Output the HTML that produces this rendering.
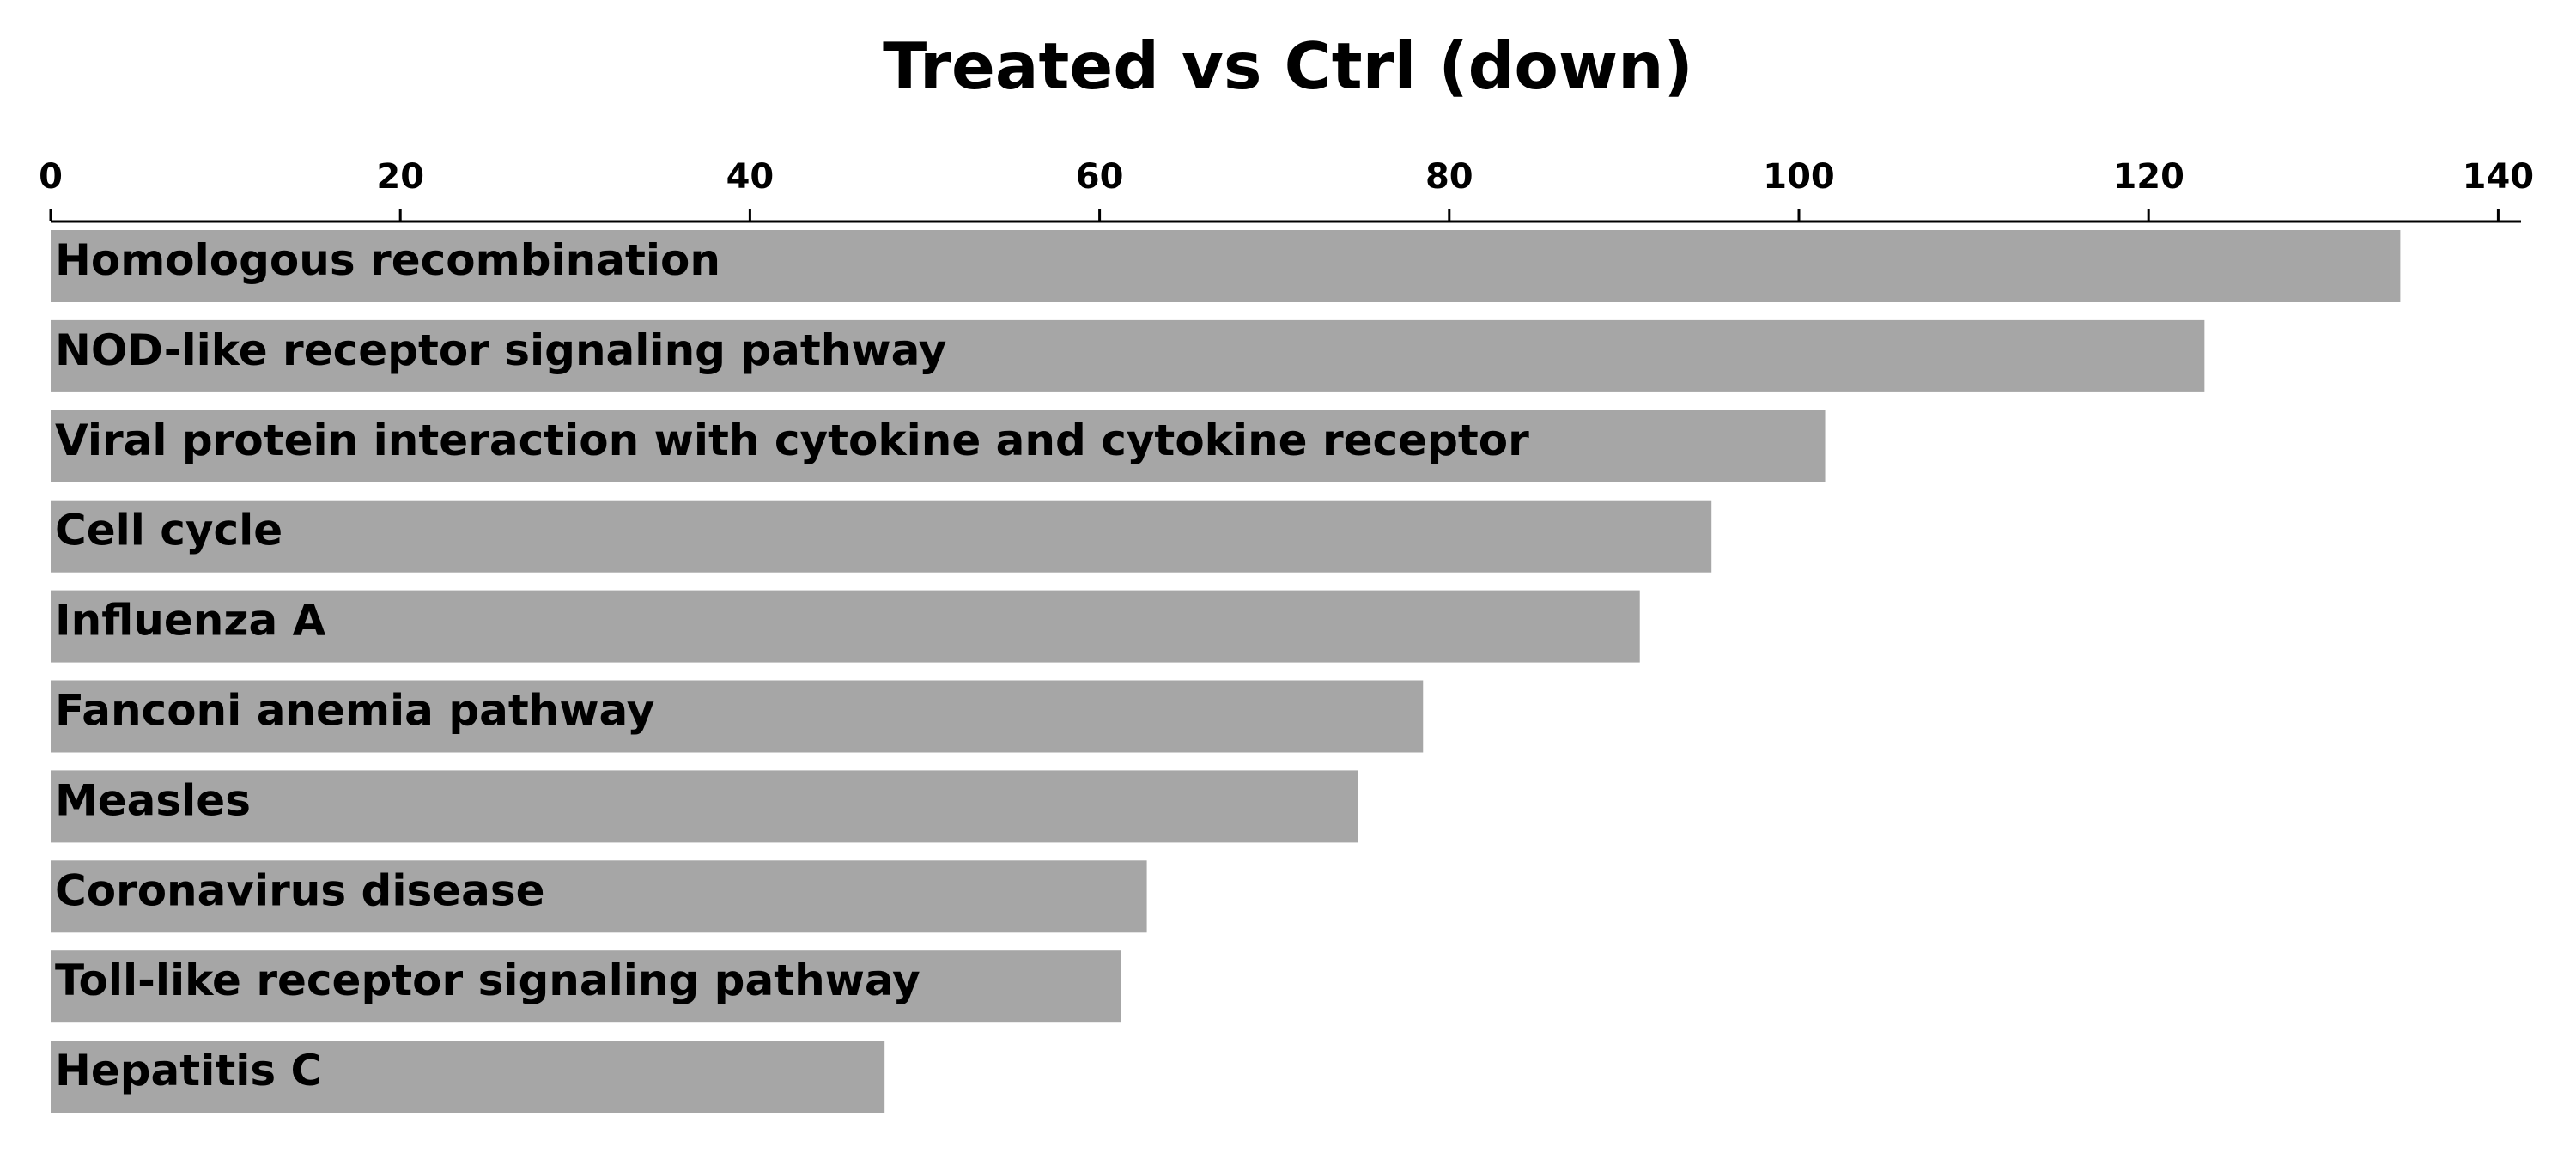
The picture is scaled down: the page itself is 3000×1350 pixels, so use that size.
<!DOCTYPE html>
<html><head><meta charset="utf-8"><style>
html,body{margin:0;padding:0;background:#fff;}
svg{display:block;font-family:"DejaVu Sans","Liberation Sans",sans-serif;font-weight:bold;}
</style></head><body>
<svg id="chart" width="3000" height="1350" viewBox="0 0 3000 1350">
<text x="1500" y="103" text-anchor="middle" font-size="75">Treated vs Ctrl (down)</text>
<g id="axis"></g>
<g id="bars"></g>
</svg>
<script>
const categories = ["Homologous recombination","NOD-like receptor signaling pathway","Viral protein interaction with cytokine and cytokine receptor","Cell cycle","Influenza A","Fanconi anemia pathway","Measles","Coronavirus disease","Toll-like receptor signaling pathway","Hepatitis C"];
const values = [134.4,123.2,101.5,95.0,90.9,78.5,74.8,62.7,61.2,47.7];
const tickValues = [0,20,40,60,80,100,120,140];
const tickLabels = ["0","20","40","60","80","100","120","140"];

const NS="http://www.w3.org/2000/svg";
const x0=59, pxPerUnit=20.36, axisY=258, axisEnd=2936;
const barTop0=268, barStep=104.9, barH=84;
function xScale(v){return x0+v*pxPerUnit;}
function yScale(i){return barTop0+i*barStep;}
function mk(tag,attrs){const e=document.createElementNS(NS,tag);for(const k in attrs)e.setAttribute(k,attrs[k]);return e;}
const axis=document.getElementById('axis');
const line=mk('line',{x1:x0,x2:axisEnd,y1:axisY,y2:axisY,stroke:'#000','stroke-width':3});


axis.appendChild(line);
tickValues.forEach((v,i)=>{
  const x=xScale(v);
  const t=mk('line',{x1:x,x2:x,y1:axisY-15,y2:axisY,stroke:'#000','stroke-width':3});
  
  
  axis.appendChild(t);
  const l=mk('text',{x:x,y:219,'text-anchor':'middle','font-size':40});
  l.textContent=tickLabels[i];
  
  
  axis.appendChild(l);
});
const bars=document.getElementById('bars');
values.forEach((v,i)=>{
  const y=yScale(i);
  const r=mk('rect',{x:x0,y:y,width:xScale(v)-x0,height:barH,fill:'#a6a6a6'});
  
  
  bars.appendChild(r);
  const t=mk('text',{x:64,y:y+barH/2+10,'font-size':50});
  t.textContent=categories[i];
  
  
  bars.appendChild(t);
});
</script>
</body></html>
